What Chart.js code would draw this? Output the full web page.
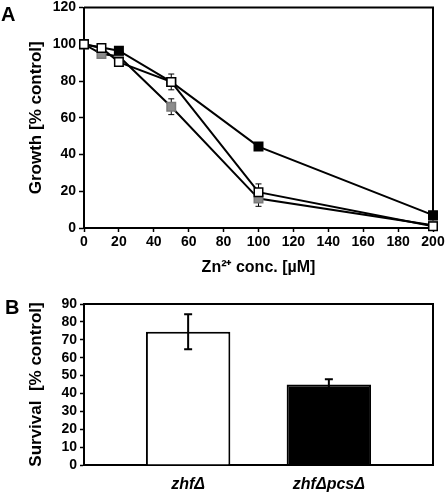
<!DOCTYPE html>
<html><head><meta charset="utf-8">
<script src="https://cdn.jsdelivr.net/npm/chart.js@4"></script>
<style>
html,body{margin:0;padding:0;background:#fff;}
#wrap{position:relative;width:448px;height:492px;overflow:hidden;font-family:"Liberation Sans",Arial,sans-serif;}
.panel{position:absolute;left:0;width:448px;}
.lbl{position:absolute;font-weight:bold;font-size:20px;line-height:20px;color:#000;}
</style></head><body>
<div id="wrap">
<div class="panel" style="top:0;height:280px"><canvas id="cA" width="448" height="280" style="width:448px;height:280px"></canvas></div>
<div class="panel" style="top:288px;height:204px"><canvas id="cB" width="448" height="204" style="width:448px;height:204px"></canvas></div>
<div class="lbl" style="left:1px;top:4px">A</div>
<div class="lbl" style="left:5px;top:297px">B</div>
</div>
<script>
// ---------- Panel A data ----------
const concFilled = [0, 20, 50, 100, 200];
const growthFilled = [100, 96.5, 79.5, 44.3, 7];
const errFilled = [0, 0, 0, 0, 0];

const concGray = [0, 10, 20, 50, 100, 200];
const growthGray = [100, 94.7, 93.5, 66, 16, 1.5];
const errGray = [0, 0, 0, 4.3, 4.2, 0];

const concOpen = [0, 10, 20, 50, 100, 200];
const growthOpen = [100, 98, 90.3, 79.5, 19.5, 1];
const errOpen = [0, 0, 0, 4.3, 4.5, 0];

const xTicksA = [0, 20, 40, 60, 80, 100, 120, 140, 160, 180, 200];
const yTicksA = [0, 20, 40, 60, 80, 100, 120];

// ---------- Panel B data ----------
const strains = ['zhf\u0394', 'zhf\u0394pcs\u0394'];
const survival = [74.5, 45];
const survivalErr = [9.8, 3];
const yTicksB = [0, 10, 20, 30, 40, 50, 60, 70, 80, 90];

const FONT = '"Liberation Sans", Arial, sans-serif';

function pts(xs, ys) { return xs.map((x, i) => ({x: x, y: ys[i]})); }

function drawErrors(chart, opts) {
  const ctx = chart.ctx, ys = chart.scales.y;
  chart.data.datasets.forEach((ds, di) => {
    if (!ds.errors) return;
    const meta = chart.getDatasetMeta(di);
    meta.data.forEach((el, i) => {
      const e = ds.errors[i];
      if (!e) return;
      const d = ds.data[i];
      const v = (typeof d === 'object') ? d.y : d;
      const x = el.x, y1 = ys.getPixelForValue(v + e), y2 = ys.getPixelForValue(v - e);
      ctx.save();
      ctx.strokeStyle = opts.color; ctx.lineWidth = opts.lineWidth;
      ctx.beginPath();
      ctx.moveTo(x, y1); ctx.lineTo(x, y2);
      ctx.moveTo(x - opts.cap, y1); ctx.lineTo(x + opts.cap, y1);
      ctx.moveTo(x - opts.cap, y2); ctx.lineTo(x + opts.cap, y2);
      ctx.stroke(); ctx.restore();
    });
  });
}
const errorBars = {
  id: 'errorBars',
  beforeDatasetsDraw(chart, args, opts) { if (opts.under) drawErrors(chart, opts); },
  afterDatasetsDraw(chart, args, opts) { if (!opts.under) drawErrors(chart, opts); }
};
const frame = {
  id: 'frame',
  beforeDatasetsDraw(chart, args, opts) {
    const a = chart.chartArea, ctx = chart.ctx;
    ctx.save(); ctx.strokeStyle = '#000'; ctx.lineWidth = opts.width;
    ctx.beginPath();
    ctx.moveTo(a.left, a.top); ctx.lineTo(a.right, a.top); ctx.lineTo(a.right, a.bottom);
    ctx.stroke(); ctx.restore();
  }
};

function fixY(w) { return function (s) { s.width = w; s.paddingTop = 0; s.paddingBottom = 0; }; }
function fixX(h) { return function (s) { s.height = h; s.paddingLeft = 0; s.paddingRight = 0; }; }

const ptCommon = {pointStyle: 'rect', pointRadius: 6, pointHoverRadius: 6, pointBorderWidth: 1.5,
  borderColor: '#000', borderWidth: 2, tension: 0, clip: false};

new Chart(document.getElementById('cA'), {
  type: 'line',
  data: {
    datasets: [
      Object.assign({label: 'open', data: pts(concOpen, growthOpen), errors: errOpen,
        pointBackgroundColor: '#fff', pointBorderColor: '#000'}, ptCommon),
      Object.assign({label: 'filled', data: pts(concFilled, growthFilled), errors: errFilled,
        pointBackgroundColor: '#000', pointBorderColor: '#000'}, ptCommon),
      Object.assign({label: 'gray', data: pts(concGray, growthGray), errors: errGray,
        pointBackgroundColor: '#8c8c8c', pointBorderColor: '#7a7a7a'}, ptCommon)
    ]
  },
  options: {
    responsive: false, animation: false, events: [],
    layout: {padding: {left: 0, right: 15, top: 6, bottom: 0}},
    plugins: {legend: {display: false}, tooltip: {enabled: false},
      errorBars: {under: true, color: '#000', lineWidth: 1, cap: 3},
      frame: {width: 2}},
    scales: {
      x: {type: 'linear', min: 0, max: 200,
        afterBuildTicks: s => { s.ticks = xTicksA.map(v => ({value: v})); },
        afterFit: fixX(52),
        border: {display: true, color: '#000', width: 2},
        grid: {display: true, drawOnChartArea: false, drawTicks: true, tickLength: 4, tickColor: '#000', tickWidth: 1.5},
        ticks: {color: '#000', padding: 2, maxRotation: 0, autoSkip: false, font: {family: FONT, size: 14, weight: 'bold'}},
        title: {display: true, text: 'Zn\u00b2\u207a conc. [\u00b5M]', color: '#000', padding: {top: 0, bottom: 3},
          font: {family: FONT, size: 16, weight: 'bold'}}
      },
      y: {type: 'linear', min: 0, max: 120,
        afterBuildTicks: s => { s.ticks = yTicksA.map(v => ({value: v})); },
        afterFit: fixY(84),
        border: {display: true, color: '#000', width: 2},
        grid: {display: true, drawOnChartArea: false, drawTicks: true, tickLength: 5, tickColor: '#000', tickWidth: 1.5},
        ticks: {color: '#000', padding: 3, autoSkip: false, font: {family: FONT, size: 14, weight: 'bold'}},
        title: {display: true, text: 'Growth [% control]', color: '#000', padding: {top: 26, bottom: 0},
          font: {family: FONT, size: 17, weight: 'bold'}}
      }
    }
  },
  plugins: [errorBars, frame]
});

new Chart(document.getElementById('cB'), {
  type: 'bar',
  data: {
    datasets: [{
      data: strains.map((s, i) => ({x: i, y: survival[i]})),
      errors: survivalErr,
      backgroundColor: ['#fff', '#000'], borderColor: '#000', borderWidth: 2, borderSkipped: 'start',
      barPercentage: 0.6, categoryPercentage: 1
    }]
  },
  options: {
    responsive: false, animation: false, events: [],
    layout: {padding: {left: 0, right: 15, top: 16, bottom: 0}},
    plugins: {legend: {display: false}, tooltip: {enabled: false},
      errorBars: {under: false, color: '#000', lineWidth: 2, cap: 4},
      frame: {width: 2}},
    scales: {
      x: {type: 'linear', min: -0.74, max: 1.74, offset: false,
        afterBuildTicks: s => { s.ticks = strains.map((c, i) => ({value: i})); },
        afterFit: fixX(27),
        border: {display: true, color: '#000', width: 2},
        grid: {display: false, drawTicks: false},
        ticks: {color: '#000', padding: 10, maxRotation: 0, autoSkip: false,
          callback: v => strains[v],
          font: {family: FONT, size: 16, weight: 'bold', style: 'italic'}}
      },
      y: {type: 'linear', min: 0, max: 90,
        afterBuildTicks: s => { s.ticks = yTicksB.map(v => ({value: v})); },
        afterFit: fixY(84),
        border: {display: true, color: '#000', width: 2},
        grid: {display: true, drawOnChartArea: false, drawTicks: true, tickLength: 4, tickColor: '#000', tickWidth: 1.5},
        ticks: {color: '#000', padding: 3, autoSkip: false, font: {family: FONT, size: 14, weight: 'bold'}},
        title: {display: true, text: 'Survival  [% control]', color: '#000', padding: {top: 26, bottom: 0},
          font: {family: FONT, size: 17, weight: 'bold'}}
      }
    }
  },
  plugins: [errorBars, frame]
});
</script>
</body></html>
